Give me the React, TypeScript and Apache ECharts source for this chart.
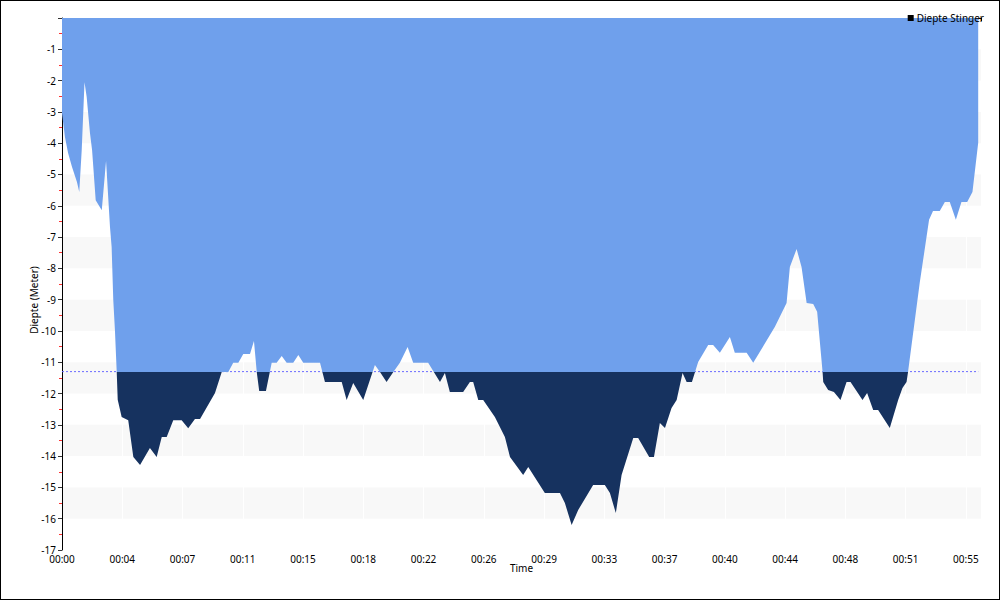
import React, { useEffect, useRef } from 'react';
import * as echarts from 'echarts';

// Time in minutes since start of the dive
const timeMin = [
  0, 0.18, 0.37, 0.61, 0.91, 1.05, 1.2, 1.37, 1.5, 1.7, 1.83, 2.05, 2.42, 2.68, 2.92, 3.02, 3.12, 3.22, 3.33,
  3.39, 3.63, 4.03, 4.34, 4.75, 5.35, 5.76, 6.07, 6.37, 6.77, 7.28, 7.68, 8.09, 8.4, 9.31, 9.72, 10.12, 10.42,
  10.73, 11.03, 11.44, 11.68, 11.85, 12.0, 12.41, 12.76, 13.06, 13.37, 13.67, 14.07, 14.38, 14.68, 15.7, 16.0,
  17.02, 17.32, 17.72, 18.33, 19.04, 19.35, 19.75, 20.16, 20.56, 21.03, 21.37, 22.28, 23.0, 23.3, 23.6, 24.41,
  24.82, 25.02, 25.33, 25.63, 26.34, 26.95, 27.26, 28.06, 28.37, 29.38, 30.3, 30.6, 31.01, 31.41, 32.32, 33.03,
  33.34, 33.7, 34.05, 34.76, 35.06, 35.73, 36.02, 36.38, 36.69, 37.09, 37.4, 37.76, 38.01, 38.33, 38.71, 39.32,
  39.62, 40.03, 40.64, 40.94, 41.66, 42.06, 43.38, 44.09, 44.29, 44.7, 45.0, 45.31, 45.71, 45.95, 46.28, 46.32,
  46.62, 46.97, 47.37, 47.74, 47.98, 48.71, 48.99, 49.36, 49.66, 50.37, 50.88, 51.14, 51.39, 51.48, 52.19,
  52.76, 53.0, 53.41, 53.72, 54.02, 54.39, 54.73, 55.08, 55.4, 55.75,
];

// Depth of the stinger in metres
const depthM = [
  -3.04, -3.8, -4.31, -4.76, -5.24, -5.56, -4.22, -2.05, -2.52, -3.67, -4.22, -5.82, -6.14, -4.57, -6.68, -7.32,
  -9.01, -9.97, -11.31, -12.2, -12.75, -12.85, -14.03, -14.28, -13.74, -14.03, -13.39, -13.39, -12.85, -12.85,
  -13.11, -12.81, -12.81, -11.98, -11.31, -11.31, -11.02, -11.02, -10.74, -10.74, -10.32, -11.31, -11.92,
  -11.92, -11.02, -11.02, -10.8, -11.02, -11.02, -10.77, -11.02, -11.02, -11.63, -11.63, -12.21, -11.66,
  -12.21, -11.09, -11.31, -11.63, -11.31, -11.02, -10.51, -11.02, -11.02, -11.63, -11.34, -11.95, -11.95,
  -11.63, -11.63, -12.21, -12.21, -12.75, -13.39, -14.03, -14.6, -14.35, -15.18, -15.18, -15.5, -16.2, -15.72,
  -14.92, -14.92, -15.18, -15.82, -14.6, -13.42, -13.42, -14.03, -14.03, -12.94, -13.1, -12.46, -12.21, -11.34,
  -11.63, -11.63, -10.99, -10.45, -10.45, -10.7, -10.19, -10.7, -10.7, -11.02, -9.87, -9.11, -7.96, -7.38,
  -7.96, -9.11, -9.14, -9.39, -11.31, -11.63, -11.89, -11.95, -12.21, -11.63, -11.63, -12.21, -11.98, -12.53,
  -12.53, -13.1, -12.21, -11.82, -11.63, -11.31, -8.47, -6.45, -6.17, -6.17, -5.88, -5.88, -6.45, -5.88, -5.88,
  -5.56, -3.99,
];

const THRESHOLD = -11.3;
const SERIES_NAME = 'Diepte Stinger';
const X_MAX = 55.92;
const X_TICK_STEP = 55 / 15;

const BLUE = '#6fa0ec';
const NAVY = '#16325f';
const DASH = '#6a6aff';
const FONT = 'Noto Sans';

export default function App() {
  const ref = useRef<HTMLDivElement>(null);

  useEffect(() => {
    const chart = echarts.init(ref.current as HTMLDivElement, null, { renderer: 'svg' });
    const depthData = timeMin.map((t, i) => [t, depthM[i]]);
    const tEnd = timeMin[timeMin.length - 1];
    // area polygon spans from axis top (0) down to the deepest point
    const deepest = Math.min(...depthM);
    const split = (0 - THRESHOLD) / (0 - deepest);

    chart.setOption({
      animation: false,
      backgroundColor: '#fff',
      grid: { left: 62, right: 19, top: 18, bottom: 50, containLabel: false },
      legend: {
        right: 11,
        top: 8,
        itemWidth: 6,
        itemHeight: 6,
        itemGap: 4,
        textStyle: { fontFamily: FONT, fontSize: 10, color: '#000', padding: [0, 0, 0, -2] },
        data: [{ name: SERIES_NAME, icon: 'rect', itemStyle: { color: '#000' } }],
      },
      xAxis: {
        type: 'value',
        min: 0,
        max: X_MAX,
        interval: X_TICK_STEP,
        name: 'Time',
        nameLocation: 'middle',
        nameGap: 13,
        nameMoveOverlap: false,
        nameTextStyle: { fontFamily: FONT, fontSize: 10, color: '#000' },
        axisLine: { show: true, lineStyle: { color: '#000', width: 1 } },
        axisTick: { show: true, length: 3, lineStyle: { color: '#000' } },
        minorTick: { show: true, splitNumber: 10, length: 2, lineStyle: { color: '#aaa' } },
        axisLabel: {
          showMaxLabel: false,
          margin: 4,
          fontFamily: FONT,
          fontSize: 10,
          color: '#000',
          formatter: (v: number) => '00:' + String(Math.round(v)).padStart(2, '0'),
        },
        splitLine: { show: true, lineStyle: { color: '#ffffff', width: 1 } },
      },
      yAxis: {
        type: 'value',
        min: -17,
        max: 0,
        interval: 1,
        axisLine: { show: true, lineStyle: { color: '#000', width: 1 } },
        axisTick: { show: true, length: 4, lineStyle: { color: '#333' } },
        minorTick: { show: true, splitNumber: 2, length: 3, lineStyle: { color: '#ff3030' } },
        axisLabel: {
          showMaxLabel: false,
          margin: 6,
          fontFamily: FONT,
          fontSize: 10,
          color: '#000',
        },
        splitLine: { show: false },
        splitArea: { show: true, areaStyle: { color: ['rgba(255,255,255,0)', '#f8f8f8'] } },
      },
      graphic: [
        {
          type: 'text',
          x: 34,
          y: 300,
          rotation: Math.PI / 2,
          style: {
            text: 'Diepte (Meter)',
            fontFamily: FONT,
            fontSize: 10,
            fill: '#000',
            align: 'center',
            verticalAlign: 'middle',
          },
        },
      ],
      series: [
        {
          name: 'threshold',
          type: 'line',
          z: 1,
          silent: true,
          showSymbol: false,
          symbol: 'none',
          color: DASH,
          itemStyle: { color: DASH },
          data: [
            [timeMin[0], THRESHOLD],
            [tEnd, THRESHOLD],
          ],
          lineStyle: { color: DASH, width: 1, type: [2, 2], opacity: 1 },
        },
        {
          name: SERIES_NAME,
          type: 'line',
          z: 2,
          showSymbol: false,
          symbol: 'none',
          data: depthData,
          lineStyle: { width: 0 },
          itemStyle: { color: '#000' },
          areaStyle: {
            origin: 'end',
            opacity: 1,
            color: new echarts.graphic.LinearGradient(0, 0, 0, 1, [
              { offset: 0, color: BLUE },
              { offset: split, color: BLUE },
              { offset: split, color: NAVY },
              { offset: 1, color: NAVY },
            ]),
          },
        },
      ],
    });

    return () => chart.dispose();
  }, []);

  return (
    <div style={{ position: 'fixed', left: 0, top: 0, width: 1000, height: 600, background: '#fff' }}>
      <div ref={ref} style={{ width: 1000, height: 600 }} />
      <div
        style={{
          position: 'absolute',
          left: 0,
          top: 0,
          width: 1000,
          height: 600,
          border: '1px solid #000',
          boxSizing: 'border-box',
          pointerEvents: 'none',
        }}
      />
    </div>
  );
}
